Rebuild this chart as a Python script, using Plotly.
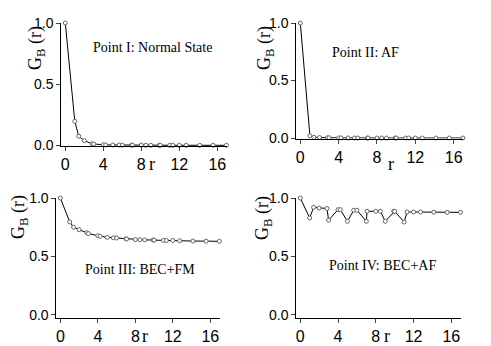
import plotly.graph_objects as go

W, H = 491, 346

# lattice distances r (axial n and diagonal n*sqrt(2))
r = [0, 1, 1.414, 2, 2.828, 3, 4, 4.243, 5, 5.657, 6, 7, 7.071, 8, 8.485,
     9, 9.899, 10, 11, 11.314, 12, 12.728, 14.142, 15.556, 16.971]

g_normal = [1.0, 0.196, 0.074, 0.038, 0.012, 0.010, 0.004, 0.003, 0.002, 0.002,
            0.001, 0.001, 0.001, 0.001, 0.0, 0.0, 0.0, 0.0, 0.0, 0.0,
            0.0, 0.0, 0.0, 0.0, 0.0]
g_af = [1.0, 0.020, 0.006, 0.004, 0.002, 0.002, 0.001, 0.001, 0.001, 0.0,
        0.0, 0.0, 0.0, 0.0, 0.0, 0.0, 0.0, 0.0, 0.0, 0.0,
        0.0, 0.0, 0.0, 0.0, 0.0]
g_bec_fm = [1.0, 0.795, 0.75, 0.728, 0.702, 0.695, 0.677, 0.672, 0.663, 0.659,
            0.657, 0.650, 0.649, 0.644, 0.643, 0.641, 0.640, 0.639, 0.637, 0.636,
            0.636, 0.634, 0.631, 0.630, 0.629]
g_bec_af = [1.0, 0.829, 0.920, 0.914, 0.910, 0.810, 0.900, 0.900, 0.800, 0.895,
            0.895, 0.800, 0.886, 0.886, 0.886, 0.800, 0.886, 0.886, 0.794, 0.880,
            0.880, 0.880, 0.878, 0.877, 0.877]

labels = ["Point I: Normal State", "Point II: AF", "Point III: BEC+FM", "Point IV: BEC+AF"]
series = [g_normal, g_af, g_bec_fm, g_bec_af]

# panel boxes in pixels: left, right, top (y=1.0), bottom, y minimum
boxes = [(53.3, 218.8, 15, 137.9, -0.005),
         (288.3, 455.2, 15, 130.6, -0.005),
         (48.4, 211.7, 190, 309.6, -0.025),
         (288.3, 452.8, 190, 309.6, -0.025)]
# label centres, y-title centres (pixels)
label_pos = [(144.5, 39), (357.8, 44), (131.7, 261), (374.7, 257.5)]
ytitle_pos = [(29, 40), (258, 40), (12, 209), (255, 210)]
# r-title: centre x, bottom y of the text box (pixels)
rtitle_pos = [(143.5, 168), (382.5, 168), (136.5, 340), (379, 340)]

def px(x):
    return x / W

def py(y):
    return 1 - y / H

fig = go.Figure()
layout = dict(width=W, height=H, margin=dict(l=0, r=0, t=0, b=0, autoexpand=False),
              plot_bgcolor="white", paper_bgcolor="white", showlegend=False,
              annotations=[])

serif = "Liberation Serif, Times New Roman, serif"
sans = "Liberation Sans, Arial, sans-serif"

def note(text, x, y, size, family, angle=0, yanchor="middle"):
    return dict(text=text, x=px(x), y=py(y), xref="paper", yref="paper",
                xanchor="center", yanchor=yanchor, textangle=angle,
                showarrow=False, font=dict(family=family, size=size, color="black"))

for i, (vals, lab) in enumerate(zip(series, labels)):
    n = "" if i == 0 else str(i + 1)
    left, right, top, bottom, ymin = boxes[i]
    fig.add_trace(go.Scatter(
        x=r, y=vals, mode="lines+markers", xaxis="x" + n, yaxis="y" + n,
        line=dict(color="black", width=1),
        marker=dict(symbol="circle", size=4, color="white",
                    line=dict(color="#666666", width=1)),
        cliponaxis=False))
    layout["xaxis" + n] = dict(
        domain=[px(left), px(right)], anchor="y" + n, range=[-0.42, 17.0],
        tickvals=[0, 4, 8, 12, 16], ticks="outside", ticklen=4, tickwidth=1,
        showline=True, linecolor="black", linewidth=1, showgrid=False,
        zeroline=False, automargin=False,
        tickfont=dict(family=sans, size=16, color="black"))
    layout["yaxis" + n] = dict(
        domain=[py(bottom), py(top)], anchor="x" + n, range=[ymin, 1.0],
        tickvals=[0, 0.5, 1.0], tickformat=".1f", ticks="outside", ticklen=4,
        tickwidth=1, showline=True, linecolor="black", linewidth=1,
        showgrid=False, zeroline=False, automargin=False,
        tickfont=dict(family=sans, size=14, color="black"))
    layout["annotations"].append(note(lab, *label_pos[i], 14, serif))
    layout["annotations"].append(note("G<sub>B</sub> (r)", *ytitle_pos[i], 18, serif, -90))
    layout["annotations"].append(note("r", *rtitle_pos[i], 18, serif, yanchor="bottom"))

fig.update_layout(**layout)
fig.write_html("out.html")
